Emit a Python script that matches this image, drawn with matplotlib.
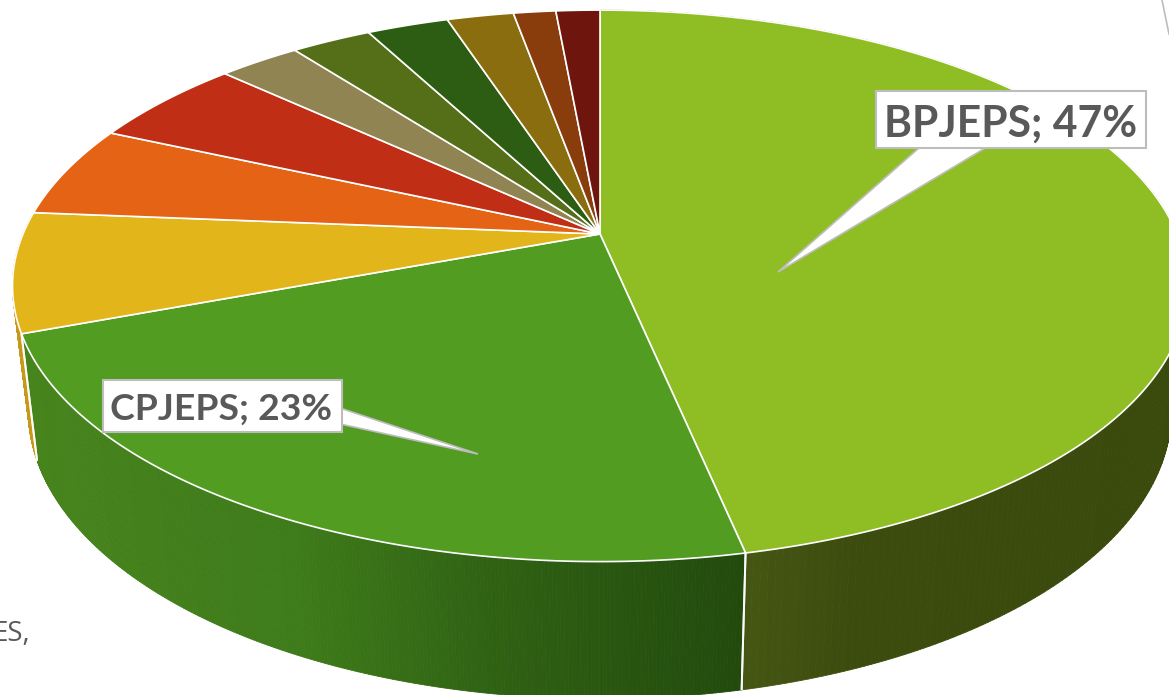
import numpy as np
import matplotlib
matplotlib.use("Agg")
import matplotlib.pyplot as plt
from matplotlib.collections import PolyCollection
from matplotlib.colors import to_rgb

# parts of the pie, clockwise from 12 o'clock
names = ["BPJEPS", "CPJEPS", "C3", "C4", "C5", "C6", "C7", "C8", "C9", "C10", "C11"]
shares = [46.7, 22.6, 7.0, 5.4, 5.2, 2.7, 2.65, 2.7, 2.2, 1.4, 1.45]
top_colors = ["#8fbe24", "#519c21", "#e2b51a", "#e46315", "#c02e15", "#8f8452",
              "#546f17", "#2d5d12", "#8a6d0e", "#8a3d0c", "#6e160e"]
label_pct = [47, 23]

# side wall shades, left to right on screen
wall_shades = {
    0: [(745, "#465714"), (860, "#3c4b0e"), (1180, "#3a4a0c")],
    1: [(30, "#47841c"), (300, "#3e7b1a"), (500, "#2f6113"), (745, "#224a0d")],
    2: [(0, "#c9981a"), (40, "#c9981a")],
}

TEXT = "#595959"
FONT = ["Lato", "DejaVu Sans"]

# perspective of the disc
CX, CY = 600, 234
RX, RY, K = 577, 266, 0.188
# lower rim relative to upper rim
WALL_SX, WALL_SY, WALL_DY = 0.973, 1.045, 112


def top_xy(theta):
    sx, cy = np.sin(theta), np.cos(theta)
    w = 1 + K * cy
    return CX + RX * sx / w, CY - RY * cy / w


def low_xy(theta):
    x, y = top_xy(theta)
    return CX + WALL_SX * (x - CX), WALL_SY * y + WALL_DY


fig = plt.figure(figsize=(11.69, 6.95), dpi=100)
ax = fig.add_axes([0, 0, 1, 1])
ax.set_xlim(0, 1169)
ax.set_ylim(695, 0)
ax.axis("off")

edges = np.radians(np.concatenate([[0], np.cumsum(shares)]) / sum(shares) * 360)

# side walls: yellow first, it only shows as a sliver left of the big one
for i in [2, 0, 1]:
    a, b = edges[i], edges[i + 1]
    t = np.linspace(a, b, 260)
    xu, yu = top_xy(t)
    xl, yl = low_xy(t)
    stops_x = [s[0] for s in wall_shades[i]]
    stops_c = np.array([to_rgb(s[1]) for s in wall_shades[i]])
    polys, cols = [], []
    for j in range(len(t) - 1):
        polys.append([(xu[j], yu[j]), (xu[j + 1], yu[j + 1]), (xl[j + 1], yl[j + 1]), (xl[j], yl[j])])
        xm = (xu[j] + xl[j]) / 2
        cols.append([np.interp(xm, stops_x, stops_c[:, c]) for c in range(3)])
    ax.add_collection(PolyCollection(polys, facecolors=cols, edgecolors=cols, linewidths=0.6, zorder=2))
    # white seam down each end of the wall
    for th in (a, b):
        xa, ya = top_xy(th)
        xb, yb = low_xy(th)
        if i != 0 or th != a:
            ax.plot([xa, xb], [ya, yb], color="white", lw=1.4, alpha=0.9, zorder=3, solid_capstyle="butt")

# top face
for i, col in enumerate(top_colors):
    t = np.linspace(edges[i], edges[i + 1], 200)
    x, y = top_xy(t)
    ax.fill(np.r_[CX, x], np.r_[CY, y], facecolor=col, edgecolor="white", lw=1.2, zorder=5, joinstyle="round")

# callouts
ax.fill([920, 987, 778], [147, 147, 272], facecolor="white", edgecolor="#bdbdbd", lw=1.2, zorder=6)
ax.fill([340, 340, 478], [408, 424, 454], facecolor="white", edgecolor="#bdbdbd", lw=1.2, zorder=6)
ax.add_patch(plt.Rectangle((875.5, 90.5), 270, 57, fc="white", ec="#bdbdbd", lw=1.5, zorder=7))
ax.add_patch(plt.Rectangle((102.5, 379.5), 239, 52, fc="white", ec="#bdbdbd", lw=1.5, zorder=7))
ax.text(1010.5, 120, f"{names[0]}; {label_pct[0]}%", color=TEXT, fontsize=30.7, fontweight="bold",
        family=FONT, ha="center", va="center_baseline", zorder=8)
ax.text(221.5, 406, f"{names[1]}; {label_pct[1]}%", color=TEXT, fontsize=26.9, fontweight="bold",
        family=FONT, ha="center", va="center_baseline", zorder=8)

# bits of the slide around the chart
ax.text(30, 641, "ES,", color=TEXT, fontsize=20, family=["Open Sans", "DejaVu Sans"], ha="right", va="baseline")
ax.plot([1162, 1169], [0, 34], color="#bdbdbd", lw=1.2)

fig.savefig("out.png", dpi=100)
